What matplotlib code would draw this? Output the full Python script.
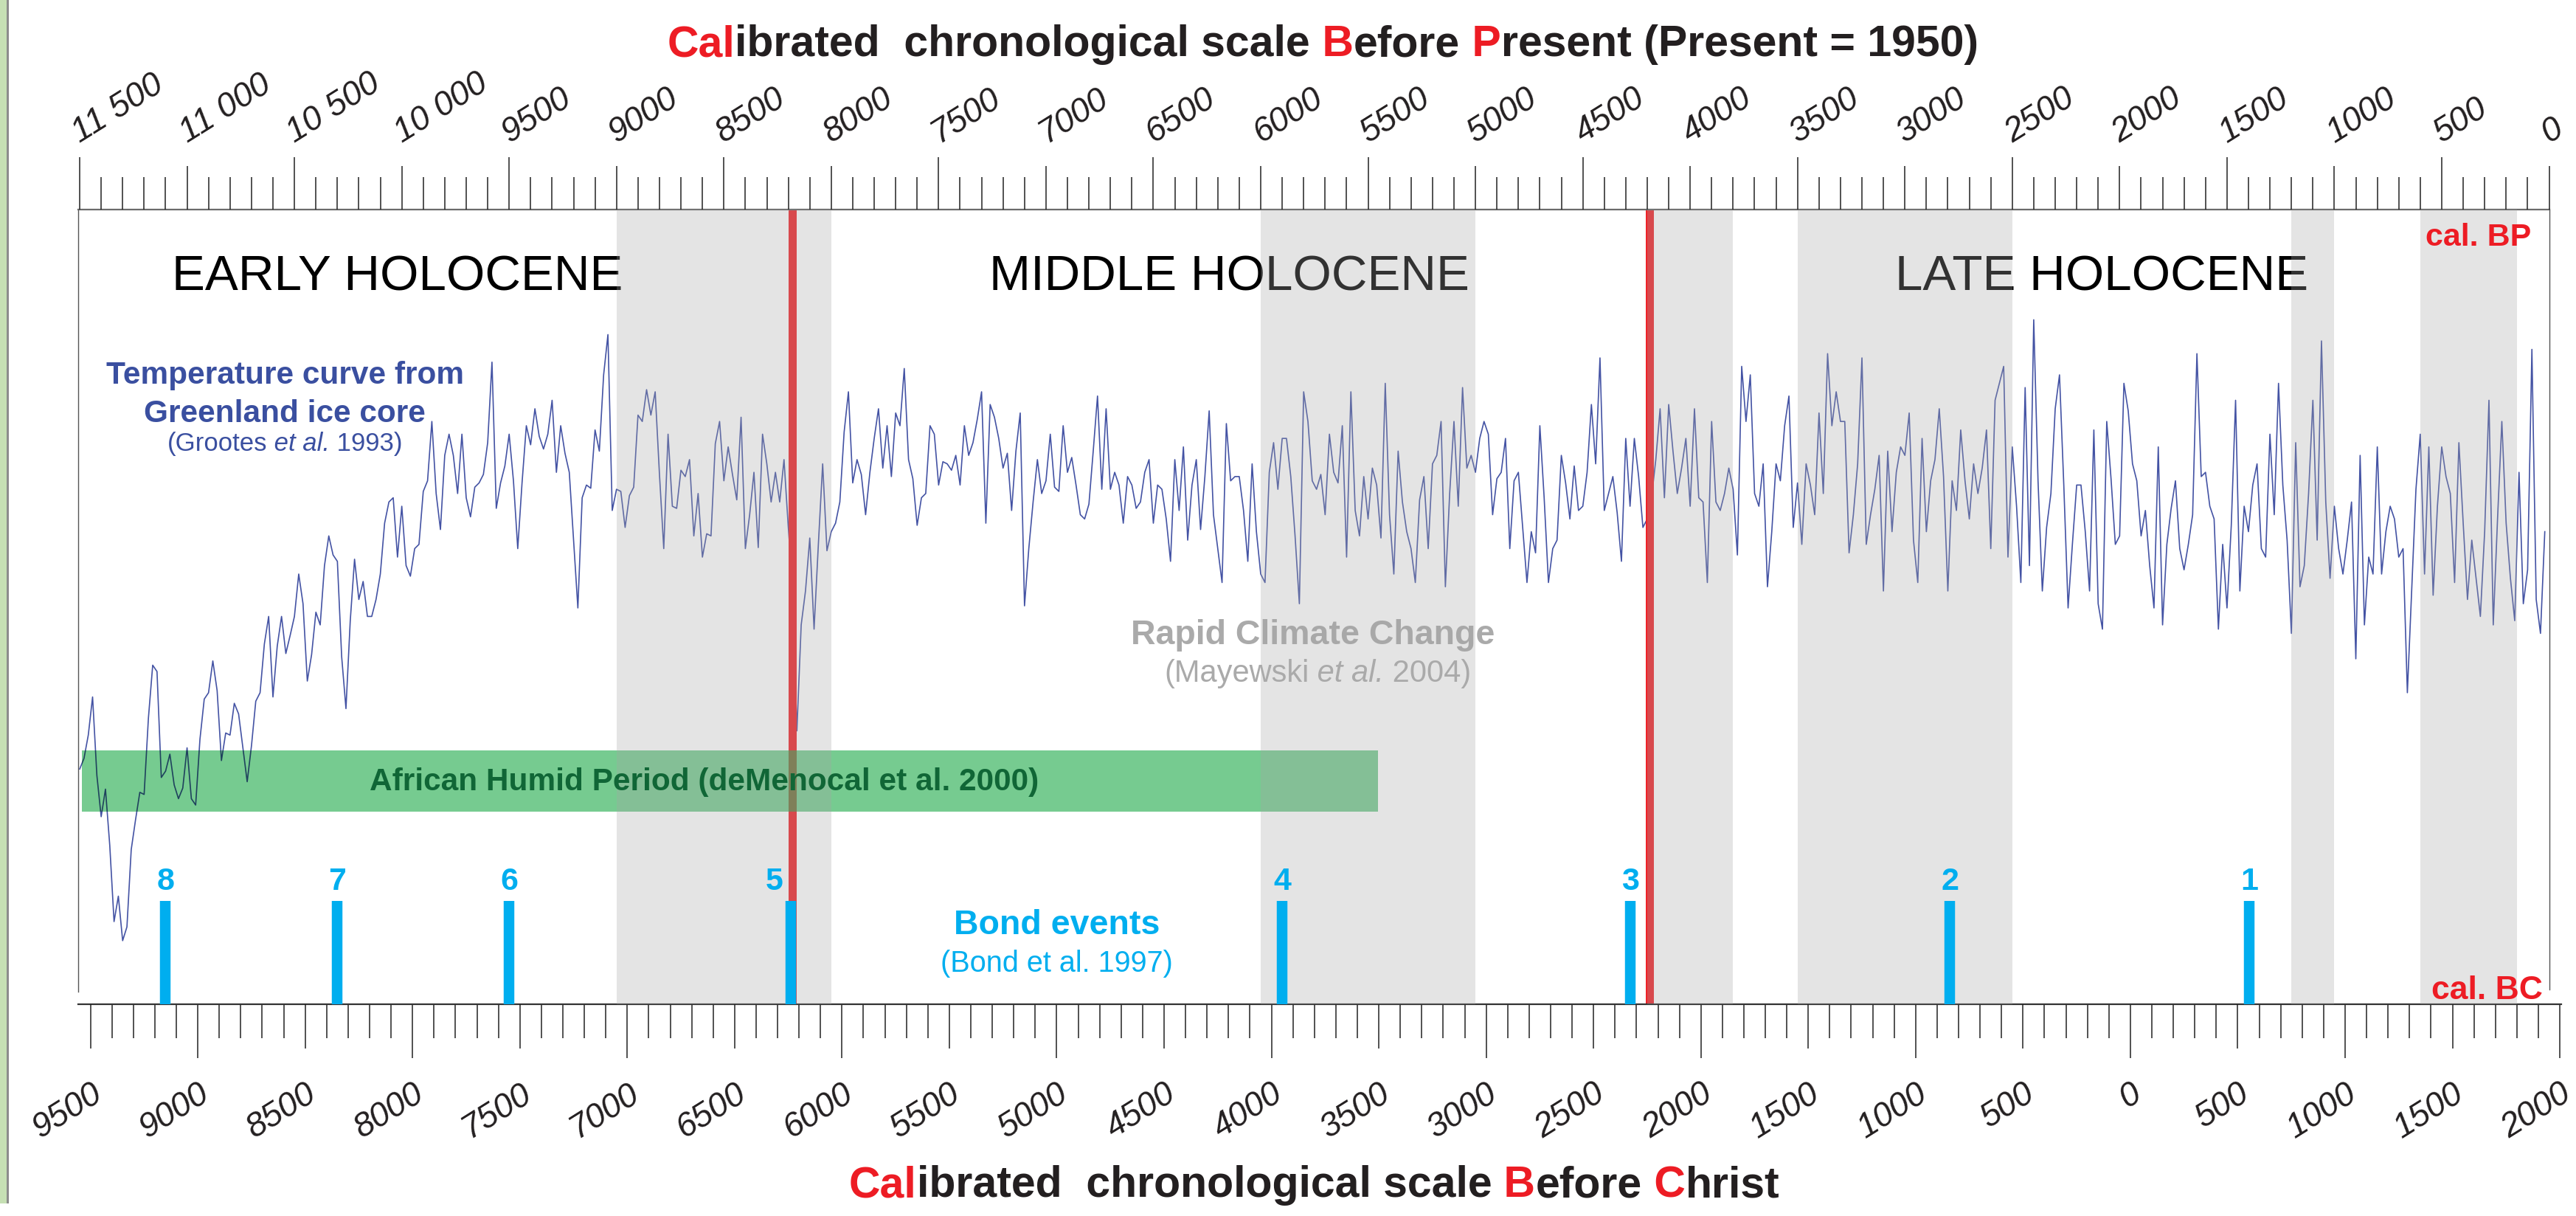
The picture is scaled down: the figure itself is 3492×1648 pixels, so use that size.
import numpy as np
import matplotlib
matplotlib.use("Agg")
import matplotlib.pyplot as plt
from matplotlib.offsetbox import TextArea, HPacker, AnnotationBbox
from matplotlib.patches import Rectangle

plt.rcParams['font.family'] = ['Liberation Sans', 'DejaVu Sans']

## GISP2 d18O (Grootes et al. 1993), every 20 years
AGE_STEP = 20
d18o_a = [  # 11500 -> 8620 cal BP
    -37.28, -37.18, -36.96, -36.60, -37.34, -37.73, -37.47, -38.00, -38.72, -38.48,
    -38.90, -38.77, -38.04, -37.76, -37.50, -37.52, -36.80, -36.30, -36.36, -37.36,
    -37.30, -37.14, -37.43, -37.56, -37.46, -37.08, -37.56, -37.62, -37.00, -36.62,
    -36.56, -36.26, -36.54, -37.20, -36.94, -36.96, -36.66, -36.76, -37.08, -37.40,
    -37.06, -36.64, -36.56, -36.10, -35.84, -36.60, -36.12, -35.84, -36.19, -36.02,
    -35.84, -35.44, -35.72, -36.45, -36.20, -35.80, -35.92, -35.36, -35.08, -35.26,
    -35.32, -36.22, -36.71, -35.88, -35.30, -35.68, -35.51, -35.84, -35.84, -35.68,
    -35.44, -34.96, -34.76, -34.72, -35.28, -34.80, -35.36, -35.46, -35.20, -35.16,
    -34.66, -34.56, -34.00, -34.68, -35.02, -34.32, -34.12, -34.32, -34.68, -34.12,
    -34.72, -34.90, -34.62, -34.58, -34.50, -34.20, -33.44, -34.82, -34.58, -34.42,
    -34.12, -34.56, -35.20, -34.58, -34.04, -34.22, -33.88, -34.14, -34.26, -34.12,
    -33.80, -34.48, -34.04, -34.30, -34.48, -35.12, -35.76, -34.72, -34.60, -34.63,
    -34.08, -34.28, -33.56, -33.18, -34.84, -34.64, -34.66, -35.00, -34.70, -34.62,
    -33.94, -34.00, -33.70, -33.94, -33.72, -34.50, -35.20, -34.12, -34.80, -34.82,
    -34.46, -34.52, -34.36, -35.08, -34.68,
]
d18o_b = [  # 8600 -> 5700 cal BP
    -35.28, -35.06, -35.08, -34.21, -34.00, -34.56, -34.24, -34.50, -34.74, -33.96,
    -35.20, -34.88, -34.48, -35.19, -34.12, -34.40, -34.76, -34.48, -34.76, -34.36,
    -35.00, -35.56, -36.92, -35.92, -35.60, -35.10, -35.96, -35.16, -34.40, -35.22,
    -35.04, -34.96, -34.76, -34.10, -33.72, -34.58, -34.36, -34.50, -34.88, -34.48,
    -34.16, -33.88, -34.44, -34.04, -34.52, -33.92, -34.04, -33.50, -34.36, -34.54,
    -34.98, -34.72, -34.68, -34.04, -34.12, -34.60, -34.38, -34.40, -34.46, -34.32,
    -34.60, -34.04, -34.32, -34.20, -33.98, -33.72, -34.96, -33.84, -33.96, -34.16,
    -34.44, -34.30, -34.84, -34.28, -33.92, -35.74, -35.20, -34.76, -34.36, -34.68,
    -34.56, -34.12, -34.62, -34.66, -34.04, -34.48, -34.34, -34.60, -34.88, -34.92,
    -34.78, -34.28, -33.76, -34.64, -33.88, -34.64, -34.48, -34.60, -34.96, -34.52,
    -34.60, -34.82, -34.76, -34.48, -34.36, -34.96, -34.60, -34.64, -34.92, -35.32,
    -34.36, -34.84, -34.24, -35.12, -34.60, -34.36, -35.02, -34.52, -33.90, -34.88,
    -35.20, -35.52, -34.02, -34.56, -34.52, -34.52, -34.84, -35.32, -34.40, -35.04,
    -35.44, -35.52, -34.48, -34.20, -34.64, -34.16, -34.16, -34.52, -35.08, -35.72,
    -33.72, -34.00, -34.56, -34.64, -34.50, -34.88,
]
d18o_c = [  # 5680 -> 2780 cal BP
    -34.12, -34.48, -34.58, -34.04, -35.28, -33.72, -34.84, -35.08, -34.52, -34.92,
    -34.44, -34.60, -35.10, -33.64, -34.88, -35.44, -34.28, -34.76, -35.04, -35.20,
    -35.52, -34.74, -34.52, -35.20, -34.40, -34.32, -34.00, -35.56, -34.68, -34.00,
    -34.80, -33.68, -34.44, -34.32, -34.48, -34.16, -34.00, -34.12, -34.88, -34.54,
    -34.48, -34.16, -35.20, -34.56, -34.48, -35.00, -35.52, -35.04, -35.24, -34.04,
    -34.72, -35.52, -35.20, -35.12, -34.32, -34.58, -34.92, -34.42, -34.84, -34.80,
    -34.48, -33.84, -34.40, -33.40, -34.84, -34.68, -34.52, -34.86, -35.32, -34.16,
    -34.80, -34.16, -34.52, -35.00, -34.92, -34.72, -34.36, -33.88, -34.72, -33.84,
    -34.28, -34.68, -34.44, -34.16, -34.80, -33.88, -34.72, -34.76, -35.52, -34.00,
    -34.76, -34.84, -34.68, -34.44, -34.64, -35.26, -33.48, -34.00, -33.56, -34.68,
    -34.80, -34.40, -35.56, -35.04, -34.40, -34.56, -34.04, -33.76, -35.00, -34.58,
    -35.16, -34.40, -34.60, -34.88, -33.92, -34.68, -33.36, -34.04, -33.72, -34.00,
    -34.00, -35.24, -34.88, -34.40, -33.40, -35.16, -34.88, -34.64, -34.32, -35.60,
    -34.28, -35.04, -34.48, -34.24, -34.32, -33.92, -35.12, -35.52, -34.16, -35.04,
    -34.56, -34.36, -33.88, -34.52, -35.60, -34.56,
]
d18o_d = [  # 2760 -> 20 cal BP
    -34.84, -34.08, -34.56, -34.92, -34.40, -34.68, -34.44, -34.08, -35.20, -33.80,
    -33.64, -33.48, -35.28, -34.24, -34.80, -35.52, -33.68, -35.36, -33.04, -34.56,
    -35.60, -35.00, -34.68, -33.88, -33.56, -34.60, -35.76, -35.16, -34.60, -34.60,
    -35.04, -35.60, -34.08, -35.72, -35.96, -34.00, -34.54, -35.16, -35.08, -33.64,
    -33.90, -34.40, -34.56, -35.08, -34.84, -35.36, -35.76, -34.24, -35.92, -35.16,
    -34.82, -34.56, -35.20, -35.40, -35.16, -34.88, -33.36, -34.52, -34.48, -34.80,
    -34.92, -35.96, -35.16, -35.76, -34.98, -33.80, -35.60, -34.80, -35.04, -34.60,
    -34.40, -35.20, -35.28, -34.12, -34.88, -33.64, -34.60, -35.12, -36.00, -34.20,
    -35.56, -35.36, -34.68, -33.80, -35.12, -33.24, -34.76, -35.48, -34.80, -35.20,
    -35.44, -35.12, -34.76, -36.24, -34.32, -35.92, -35.28, -35.44, -34.24, -35.44,
    -35.04, -34.80, -34.92, -35.28, -35.20, -36.56, -35.60, -34.64, -34.12, -35.44,
    -34.24, -35.64, -34.80, -34.24, -34.52, -34.68, -35.52, -34.20, -34.96, -35.68,
    -35.12, -35.48, -35.84, -35.04, -33.80, -35.92, -34.92, -34.00, -34.96, -35.48,
    -35.88, -34.48, -35.72, -35.40, -33.32, -35.68, -36.00, -35.04,
]

## Rapid climate change intervals (Mayewski et al. 2004), cal BP
rcc_start = [9000, 6000, 4200, 3500, 1200, 600]
rcc_end = [8000, 5000, 3800, 2500, 1000, 150]
## 8.2 ka and 4.2 ka events
abrupt_events = [8180, 4190]
## Bond events (Bond et al. 1997)
bond_ages = [11100, 10300, 9500, 8190, 5900, 4280, 2790, 1395]
bond_names = ['8', '7', '6', '5', '4', '3', '2', '1']
## African Humid Period (deMenocal et al. 2000)
ahp_start, ahp_end = 11490, 5455
## Holocene subdivisions, label centres
period_names = ['EARLY HOLOCENE', 'MIDDLE HOLOCENE', 'LATE HOLOCENE']
period_centres = [10019, 6146, 2084]

RED = '#ed1c24'
DARK = '#231f20'
CURVE = '#4453a4'
BOND = '#00aeef'
GREEN = '#76cb90'
TEMP = '#3a4fa0'
GREY_TXT = '#aaaaaa'

d18o = np.array(d18o_a + d18o_b + d18o_c + d18o_d)
ages = 11500 - AGE_STEP * np.arange(len(d18o))

fig = plt.figure(figsize=(34.92, 16.49), dpi=100)
fig.patch.set_facecolor('white')
ax = fig.add_axes([0.030355, 0.17405, 0.96378, 0.65312])
ax.set_xlim(11507, -55)
ax.set_ylim(-39.50, -32.0)
ax.set_yticks([])
xt = ax.get_xaxis_transform()

# curve, red event lines
ax.plot(ages, d18o, color=CURVE, lw=1.2, zorder=1)
for a in abrupt_events:
    ax.axvline(a, color='#ee2127', lw=7.9, zorder=2)

# African Humid Period band
green = ax.axvspan(ahp_end, ahp_start, ymin=0.2426, ymax=0.3194, color=GREEN, lw=0, zorder=3)
inner, = ax.plot(ages, d18o, color='#1f425d', lw=1.2, zorder=3.2)
inner.set_clip_path(green)
for a in abrupt_events:
    ln = ax.axvline(a, color='#6f6f39', lw=7.9, zorder=3.3)
    ln.set_clip_path(green)
ax.text(8592, 0.2705, 'African Humid Period (deMenocal et al. 2000)', transform=xt,
        ha='center', va='baseline', fontsize=30.5, fontweight='bold', color='#106636', zorder=6)

# period labels (under the grey overlay)
for name, c in zip(period_names, period_centres):
    ax.text(c, 0.8988, name, transform=xt, ha='center', va='baseline',
            fontsize=48.5, color='black', zorder=3)
ax.text(5758, 0.4543, 'Rapid Climate Change', transform=xt, ha='center', va='baseline',
        fontsize=33.5, fontweight='bold', color=GREY_TXT, zorder=3)

# grey RCC bands drawn as a translucent overlay
for s, e in zip(rcc_start, rcc_end):
    ax.axvspan(e, s, color='#a6a6a6', alpha=0.3, lw=0, zorder=4)

# Bond events
ax.vlines(bond_ages, -0.005, 0.13, transform=xt, color=BOND, lw=10.4, zorder=6)
for a, n in zip(bond_ages, bond_names):
    x = a + 75 if n == '5' else a
    ax.text(x, 0.145, n, transform=xt, ha='center', va='baseline', fontsize=31,
            fontweight='bold', color=BOND, zorder=6)
ax.text(6950, 0.0889, 'Bond events', transform=xt, ha='center', va='baseline',
        fontsize=33.5, fontweight='bold', color=BOND, zorder=6)
ax.text(6950, 0.0418, '(Bond et al. 1997)', transform=xt, ha='center', va='baseline',
        fontsize=28.5, color=BOND, zorder=6)

# temperature label
ax.text(10545, 0.7822, 'Temperature curve from', transform=xt, ha='center', va='baseline',
        fontsize=30.5, fontweight='bold', color=TEMP, zorder=6)
ax.text(10545, 0.7333, 'Greenland ice core', transform=xt, ha='center', va='baseline',
        fontsize=30.5, fontweight='bold', color=TEMP, zorder=6)

ax.text(84, 0.9554, 'cal. BP', transform=xt, ha='right', va='baseline', fontsize=31,
        fontweight='bold', color=RED, zorder=7)
ax.text(31, 0.0076, 'cal. BC', transform=xt, ha='right', va='baseline', fontsize=32,
        fontweight='bold', color=RED, zorder=7)


def rich(parts, size, xy, xycoords, owner):
    areas = [TextArea(s, textprops=dict(color=c, fontsize=size, fontweight=w, fontstyle=st))
             for s, c, w, st in parts]
    box = HPacker(children=areas, align='baseline', pad=0, sep=0)
    ab = AnnotationBbox(box, xy, xycoords=xycoords, frameon=False, pad=0,
                        box_alignment=(0.5, 0.5), zorder=6)
    owner.add_artist(ab)


rich([('(Grootes', TEMP, 'normal', 'normal'), (' et al.', TEMP, 'normal', 'italic'),
      (' 1993)', TEMP, 'normal', 'normal')], 25, (10545, 0.7061), ('data', 'axes fraction'), ax)
rich([('(Mayewski', GREY_TXT, 'normal', 'normal'), (' et al.', GREY_TXT, 'normal', 'italic'),
      (' 2004)', GREY_TXT, 'normal', 'normal')], 30, (5734, 0.4173), ('data', 'axes fraction'), ax)

rich([('Cal', RED, 'bold', 'normal'), ('ibrated  chronological scale', DARK, 'bold', 'normal'),
      (' B', RED, 'bold', 'normal'), ('efore', DARK, 'bold', 'normal'),
      (' P', RED, 'bold', 'normal'), ('resent (Present = 1950)', DARK, 'bold', 'normal')],
     42.5, (0.5135, 0.9631), 'figure fraction', fig)
rich([('Cal', RED, 'bold', 'normal'), ('ibrated  chronological scale', DARK, 'bold', 'normal'),
      (' B', RED, 'bold', 'normal'), ('efore', DARK, 'bold', 'normal'),
      (' C', RED, 'bold', 'normal'), ('hrist', DARK, 'bold', 'normal')],
     42.5, (0.5102, 0.0256), 'figure fraction', fig)

# frame
ax.spines['right'].set_visible(False)
ax.spines['top'].set_bounds(11507, 0)
ax.spines['top'].set_color('#6b6b6b')
ax.spines['top'].set_linewidth(1.6)
ax.spines['bottom'].set_color('#333333')
ax.spines['bottom'].set_linewidth(1.6)
ax.spines['left'].set_bounds(-39.38, -32.0)
ax.spines['left'].set_color('#555555')
ax.spines['left'].set_linewidth(1.0)
ax.axvline(0, ymin=0.019, ymax=1, color='#555555', lw=1.0, zorder=7)

TICK = dict(direction='out', width=1.1, color='#222222', labelsize=33, labelcolor=DARK)
LABEL_ROT = 32

# bottom axis: years BC / AD
ad_thousands = np.arange(-9000, 2001, 1000)
ad_halves = np.arange(-9500, 1501, 1000)
ad_minor = [a for a in range(-9500, 2001, 100) if a % 500 != 0]
ax.set_xticks(1950 - ad_thousands)
ax.set_xticklabels([str(abs(a)) for a in ad_thousands], rotation=LABEL_ROT, ha='right',
                   va='top', rotation_mode='anchor', fontstyle='italic')
ax.set_xticks(1950 - np.array(ad_minor), minor=True)
ax.tick_params(axis='x', which='major', length=52.6, pad=18, top=False, **TICK)
ax.tick_params(axis='x', which='minor', length=33, direction='out', width=1.1,
               color='#222222', top=False)

axb = ax.twiny()
axb.set_xlim(ax.get_xlim())
axb.xaxis.tick_bottom()
axb.set_xticks(1950 - ad_halves)
axb.set_xticklabels([str(abs(a)) for a in ad_halves], rotation=LABEL_ROT, ha='right',
                    va='top', rotation_mode='anchor', fontstyle='italic')
axb.tick_params(axis='x', which='major', length=43.2, pad=27.4, bottom=True, top=False,
                labelbottom=True, labeltop=False, **TICK)

# top axis: cal BP
def bp_label(v):
    return f"{v // 1000} {v % 1000:03d}" if v >= 10000 else str(v)


bp_halves = np.arange(11500, 0, -1000)
bp_thousands = np.arange(11000, -1, -1000)
bp_minor = [b for b in range(0, 11501, 100) if b % 500 != 0]

axt = ax.twiny()
axt.set_xlim(ax.get_xlim())
axt.set_xticks(bp_halves)
axt.set_xticklabels([bp_label(int(b)) for b in bp_halves], rotation=LABEL_ROT, ha='left',
                    va='baseline', rotation_mode='anchor', fontstyle='italic')
axt.set_xticks(bp_minor, minor=True)
axt.tick_params(axis='x', which='major', length=51, pad=14.4, top=True, bottom=False,
                labeltop=True, labelbottom=False, **TICK)
axt.tick_params(axis='x', which='minor', length=32, direction='out', width=1.1,
                color='#222222', top=True, bottom=False)

axt2 = ax.twiny()
axt2.set_xlim(ax.get_xlim())
axt2.set_xticks(bp_thousands)
axt2.set_xticklabels([bp_label(int(b)) for b in bp_thousands], rotation=LABEL_ROT, ha='left',
                     va='baseline', rotation_mode='anchor', fontstyle='italic')
axt2.tick_params(axis='x', which='major', length=42.5, pad=23, top=True, bottom=False,
                 labeltop=True, labelbottom=False, **TICK)

for a in (axb, axt, axt2):
    for sp in a.spines.values():
        sp.set_visible(False)

# left margin strip of the original page
fig.patches.append(Rectangle((0, 0.0103), 0.0026, 0.9897, transform=fig.transFigure,
                             facecolor='#c6e0b4', edgecolor='none'))
fig.patches.append(Rectangle((0.0026, 0.0103), 0.0007, 0.9897, transform=fig.transFigure,
                             facecolor='#8c8c8c', edgecolor='none'))

fig.savefig('out.png', dpi=100)
